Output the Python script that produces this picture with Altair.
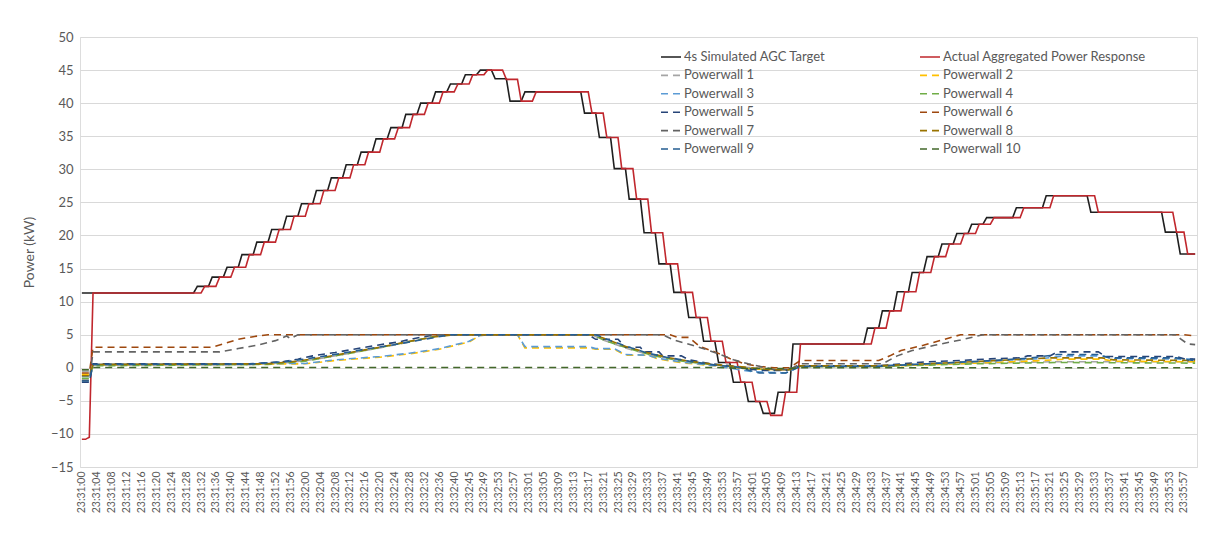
import altair as alt
import pandas as pd

# ---------------- data ----------------
SERIES = ["4s Simulated AGC Target", "Actual Aggregated Power Response",
          "Powerwall 1", "Powerwall 2", "Powerwall 3", "Powerwall 4", "Powerwall 5",
          "Powerwall 6", "Powerwall 7", "Powerwall 8", "Powerwall 9", "Powerwall 10"]
COLORS = ["#1F1F1F", "#C0272D",
          "#A5A5A5", "#FFC000", "#5B9BD5", "#70AD47", "#264478",
          "#9E480E", "#636363", "#997300", "#255E91", "#43682B"]

TICK_LABELS = [
    "23:31:00", "23:31:04", "23:31:08", "23:31:12", "23:31:16", "23:31:20", "23:31:24", "23:31:28",
    "23:31:32", "23:31:36", "23:31:40", "23:31:44", "23:31:48", "23:31:52", "23:31:56",
    "23:32:00", "23:32:04", "23:32:08", "23:32:12", "23:32:16", "23:32:20", "23:32:24", "23:32:28",
    "23:32:32", "23:32:36", "23:32:40", "23:32:45", "23:32:49", "23:32:53", "23:32:57",
    "23:33:01", "23:33:05", "23:33:09", "23:33:13", "23:33:17", "23:33:21", "23:33:25", "23:33:29",
    "23:33:33", "23:33:37", "23:33:41", "23:33:45", "23:33:49", "23:33:53", "23:33:57",
    "23:34:01", "23:34:05", "23:34:09", "23:34:13", "23:34:17", "23:34:21", "23:34:25", "23:34:29",
    "23:34:33", "23:34:37", "23:34:41", "23:34:45", "23:34:49", "23:34:53", "23:34:57",
    "23:35:01", "23:35:05", "23:35:09", "23:35:13", "23:35:17", "23:35:21", "23:35:25", "23:35:29",
    "23:35:33", "23:35:37", "23:35:41", "23:35:45", "23:35:49", "23:35:53", "23:35:57"]
LAST_SAMPLE = 299

# held levels (sample index where the level starts, level in kW)
AGC_TARGET = [(0, 11.3), (31, 12.3), (35, 13.7), (39, 15.2), (43, 17.1), (47, 19.0), (51, 20.9),
              (55, 22.9), (59, 24.8), (63, 26.8), (67, 28.7), (71, 30.7), (75, 32.6), (79, 34.6),
              (83, 36.3), (87, 38.3), (91, 40.0), (95, 41.7), (99, 42.9), (103, 44.3), (107, 45.0),
              (111, 43.7), (115, 40.3), (119, 41.7), (135, 38.5), (139, 34.8), (143, 30.1),
              (147, 25.5), (151, 20.4), (155, 15.7), (159, 11.4), (163, 7.6), (167, 4.0), (171, 0.8),
              (175, -2.2), (179, -5.1), (183, -6.9), (187, -3.7), (191, 3.6), (211, 6.0), (215, 8.6),
              (219, 11.5), (223, 14.4), (227, 16.8), (231, 18.7), (235, 20.3), (239, 21.7),
              (243, 22.7), (251, 24.2), (259, 26.0), (271, 23.5), (291, 20.5), (295, 17.2)]
ACTUAL = [(0, -10.8), (2, -10.5), (3, 11.3), (33, 12.3), (37, 13.7), (41, 15.2), (45, 17.1),
          (49, 19.0), (53, 20.9), (57, 22.9), (61, 24.8), (65, 26.8), (69, 28.7), (73, 30.7),
          (77, 32.6), (81, 34.6), (85, 36.3), (89, 38.3), (93, 40.0), (97, 41.7), (101, 42.9),
          (105, 44.3), (109, 45.0), (114, 43.6), (118, 40.3), (122, 41.7), (137, 38.5), (141, 34.8),
          (145, 30.1), (149, 25.5), (153, 20.4), (157, 15.7), (161, 11.4), (165, 7.6), (169, 4.0),
          (173, 0.8), (177, -2.2), (181, -5.1), (185, -7.2), (189, -3.7), (193, 3.6), (213, 6.0),
          (217, 8.6), (221, 11.5), (225, 14.4), (229, 16.8), (233, 18.7), (237, 20.3), (241, 21.7),
          (245, 22.7), (253, 24.2), (261, 26.0), (273, 23.5), (294, 20.5), (297, 17.2)]

# powerwall traces (sample index, kW)
PW1 = [(0, -0.5), (2, -0.5), (3, 0.4), (45, 0.45), (56, 0.8), (64, 1.4), (72, 2.2), (80, 3.0),
       (87, 3.8), (93, 4.5), (98, 5.0), (137, 5.0), (140, 4.2), (146, 3.0), (152, 2.0), (158, 1.4),
       (165, 0.8), (172, 0.3), (180, 0.0), (190, -0.2), (193, 0.3), (214, 0.3), (240, 0.7),
       (260, 0.9), (299, 0.9)]
PW2 = [(0, -1.0), (2, -1.0), (3, 0.45), (60, 0.6), (68, 1.1), (80, 1.6), (88, 2.1), (96, 2.8),
       (104, 3.9), (107, 4.9), (110, 5.0), (117, 5.0), (119, 3.0), (136, 3.0), (138, 2.8),
       (143, 2.8), (146, 1.9), (152, 1.9), (155, 1.3), (162, 0.7), (170, 0.3), (180, -0.2),
       (190, -0.3), (193, 0.2), (214, 0.2), (240, 0.7), (258, 1.1), (264, 1.3), (274, 1.3),
       (277, 1.0), (299, 0.9)]
PW3 = [(0, -1.3), (2, -1.3), (3, 0.5), (60, 0.65), (68, 1.2), (80, 1.7), (88, 2.2), (96, 2.9),
       (104, 4.0), (107, 4.9), (110, 5.0), (117, 5.0), (119, 3.2), (136, 3.2), (138, 2.9),
       (143, 2.9), (146, 2.0), (152, 1.9), (155, 1.4), (162, 0.8), (170, 0.3), (180, -0.6),
       (189, -0.8), (193, 0.2), (214, 0.3), (240, 0.9), (258, 1.4), (264, 1.8), (274, 1.8),
       (277, 1.4), (299, 1.3)]
PW4 = [(0, -1.6), (2, -1.6), (3, 0.3), (50, 0.5), (60, 1.0), (68, 1.8), (76, 2.6), (84, 3.5),
       (91, 4.3), (97, 5.0), (137, 5.0), (141, 4.0), (147, 2.9), (153, 1.9), (160, 1.1), (167, 0.6),
       (175, 0.2), (183, -0.3), (190, -0.3), (193, 0.2), (214, 0.2), (240, 0.6), (262, 0.8),
       (299, 0.7)]
PW5 = [(0, -2.2), (2, -2.2), (3, 0.6), (45, 0.6), (54, 0.9), (58, 1.3), (62, 1.8), (68, 2.3),
       (73, 2.8), (78, 3.3), (85, 3.9), (89, 4.4), (94, 4.9), (96, 5.0), (136, 5.0), (138, 4.3),
       (144, 4.3), (146, 3.1), (150, 3.1), (151, 2.4), (155, 2.4), (156, 1.8), (161, 1.8),
       (163, 1.2), (169, 0.6), (174, 0.3), (182, -0.4), (189, -0.4), (193, 0.3), (214, 0.3),
       (227, 0.9), (236, 1.1), (244, 1.35), (252, 1.5), (254, 1.8), (260, 1.8), (262, 2.4),
       (273, 2.4), (275, 1.7), (294, 1.7), (296, 1.35), (299, 1.3)]
PW6 = [(0, -0.8), (2, -0.8), (3, 3.1), (35, 3.1), (38, 3.6), (42, 4.3), (46, 4.7), (50, 5.0),
       (158, 5.0), (160, 4.6), (163, 4.6), (166, 3.2), (170, 2.4), (174, 1.4), (178, 0.6),
       (182, 0.2), (186, 0.0), (190, 0.0), (193, 1.1), (214, 1.1), (217, 1.8), (220, 2.6),
       (226, 3.4), (231, 4.2), (236, 5.0), (296, 5.0), (299, 4.8)]
PW7 = [(0, -1.9), (2, -1.9), (3, 2.4), (37, 2.4), (42, 2.9), (47, 3.4), (52, 4.1), (55, 4.8),
       (56, 4.4), (58, 5.0), (156, 5.0), (159, 4.2), (164, 3.4), (168, 2.7), (172, 1.9),
       (175, 1.2), (179, 0.6), (183, 0.1), (186, -0.3), (190, -0.3), (193, 0.6), (215, 0.6),
       (219, 1.8), (223, 2.6), (229, 3.4), (236, 4.2), (242, 5.0), (294, 5.0), (295, 4.4),
       (297, 3.6), (299, 3.5)]
PW8 = [(0, -1.2), (2, -1.2), (3, 0.5), (50, 0.6), (58, 1.0), (65, 1.6), (72, 2.3), (80, 3.1),
       (88, 4.0), (95, 4.7), (100, 5.0), (137, 5.0), (140, 4.5), (145, 3.4), (151, 2.4),
       (157, 1.6), (163, 1.0), (170, 0.5), (178, 0.1), (185, -0.3), (190, -0.3), (193, 0.3),
       (214, 0.3), (235, 0.8), (250, 1.2), (260, 1.5), (274, 1.5), (277, 1.2), (299, 1.1)]
PW9 = [(0, -2.0), (2, -2.0), (3, 0.5), (45, 0.55), (56, 1.0), (62, 1.5), (70, 2.2), (76, 2.8),
       (83, 3.4), (89, 4.0), (95, 4.6), (99, 5.0), (138, 5.0), (141, 4.3), (147, 3.1), (152, 2.2),
       (157, 1.6), (163, 1.0), (170, 0.4), (176, 0.1), (182, -0.8), (189, -0.8), (193, 0.2),
       (214, 0.2), (230, 0.7), (245, 1.1), (255, 1.5), (262, 2.0), (273, 2.0), (276, 1.5),
       (294, 1.5), (297, 1.2), (299, 1.1)]
PW10 = [(0, -0.3), (2, -0.3), (3, 0.05), (170, 0.05), (178, -0.1), (190, -0.1), (193, 0.0),
        (299, 0.0)]

POWERWALLS = [PW1, PW2, PW3, PW4, PW5, PW6, PW7, PW8, PW9, PW10]


# ---------------- build the long table ----------------
def held(levels):
    """Hold every level until the sample before the next one starts."""
    pts = []
    for k, (start, level) in enumerate(levels):
        end = levels[k + 1][0] - 1 if k + 1 < len(levels) else LAST_SAMPLE
        pts.append((start, level))
        if end > start:
            pts.append((end, level))
    return pts


rows = []
traces = [held(AGC_TARGET), held(ACTUAL)] + POWERWALLS
for name, pts in zip(SERIES, traces):
    for order, (i, v) in enumerate(pts):
        rows.append({"series": name, "i": i, "kW": v, "o": order})
df = pd.DataFrame(rows)

DASHES = [[1, 0], [1, 0]] + [[7, 5]] * 10

label_expr = "[" + ",".join("'%s'" % s for s in TICK_LABELS) + "][round(datum.value / 4)]"
FONT = "Lato"
GREY = "#595959"

legend = alt.Legend(title=None, orient="none", legendX=580, legendY=9, columns=2,
                    direction="horizontal", columnPadding=90, rowPadding=0.4,
                    symbolType="M-1,0L1,0", symbolSize=400,
                    symbolStrokeWidth=1.6, labelFontSize=13, labelColor=GREY, labelFont=FONT,
                    labelOffset=2, labelLimit=400)

chart = alt.Chart(df).mark_line(strokeWidth=1.6).encode(
    x=alt.X("i:Q",
            scale=alt.Scale(domain=[-0.5, LAST_SAMPLE + 0.5], nice=False, zero=False),
            axis=alt.Axis(title=None, values=list(range(0, 4 * len(TICK_LABELS), 4)),
                          labelExpr=label_expr, labelAngle=-90, labelFontSize=10.5,
                          labelColor=GREY, labelFont=FONT, labelOverlap=False, labelPadding=4,
                          ticks=False, domain=False, grid=False)),
    y=alt.Y("kW:Q",
            scale=alt.Scale(domain=[-15, 50], nice=False),
            axis=alt.Axis(title="Power (kW)", values=list(range(-15, 51, 5)),
                          labelFontSize=13, labelColor=GREY, labelFont=FONT, labelPadding=7,
                          titleFontSize=14, titleFontWeight="normal", titleColor=GREY,
                          titleFont=FONT, titlePadding=14, ticks=False, domain=False,
                          grid=True, gridColor="#D9D9D9", gridWidth=1)),
    color=alt.Color("series:N", scale=alt.Scale(domain=SERIES, range=COLORS), legend=legend),
    strokeDash=alt.StrokeDash("series:N", scale=alt.Scale(domain=SERIES, range=DASHES),
                              legend=legend),
    order="o:Q",
).properties(
    width=1117, height=430,
    autosize=alt.AutoSizeParams(type="none"),
    padding={"left": 72, "top": 29, "right": 24, "bottom": 62},
).configure_view(stroke=None).configure(background="white")

chart.save("out.html", embed_options={"renderer": "svg", "actions": False})
